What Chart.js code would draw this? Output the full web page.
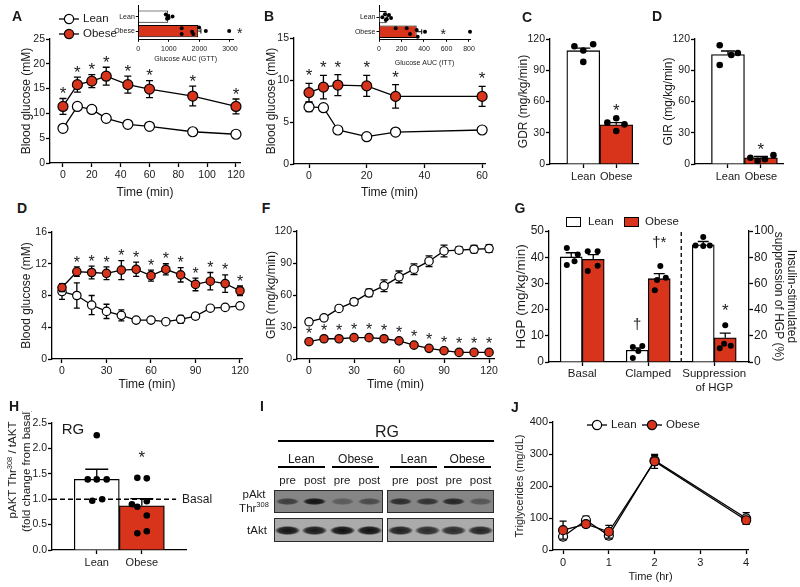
<!DOCTYPE html>
<html>
<head>
<meta charset="utf-8">
<script src="https://cdn.jsdelivr.net/npm/chart.js@4.4.1/dist/chart.umd.min.js"></script>
<style>
  body { margin: 0; background: #fff; }
  #fig { position: relative; width: 800px; height: 587px; overflow: hidden; font-family: "Liberation Sans", Arial, sans-serif; color: #1a1a1a; }
  #fig canvas { position: absolute; }
  .tx { position: absolute; white-space: nowrap; line-height: 1; transform: translate(-50%, -50%); }
  .pl { font-weight: bold; font-size: 14px; }
</style>
</head>
<body>
<div id="fig"></div>
<script>
// ---- data ----
const groups = ['Lean', 'Obese'];
const groupPos = [0, 1];

// A: glucose tolerance test
const timeA = [0, 10, 20, 30, 45, 60, 90, 120];
const leanA = [7.0, 11.4, 10.8, 9.0, 7.8, 7.4, 6.3, 5.8];
const leanAErr = [0.3, 0.3, 0.3, 0.3, 0.3, 0.3, 0.3, 0.3];
const obeseA = [11.4, 15.8, 16.5, 17.5, 15.8, 14.9, 13.5, 11.4];
const obeseAErr = [1.6, 1.5, 1.3, 1.8, 1.7, 1.7, 2.0, 1.5];
const gttAuc = [980, 1960];
const gttAucErr = [40, 90];
const gttLeanDots = [900, 940, 965, 990, 1120];
const gttLeanJit = [-0.15, 0.15, -0.05, 0.1, 0];
const gttObeseDots = [1420, 1420, 1760, 1800, 1990, 2210, 2975];
const gttObeseJit = [-0.2, 0.2, 0.05, 0.2, -0.25, 0, 0];

// B: insulin tolerance test
const timeB = [0, 5, 10, 20, 30, 60];
const leanB = [6.8, 6.7, 4.05, 3.25, 3.8, 4.05];
const leanBErr = [0.55, 0.3, 0.2, 0.2, 0.2, 0.2];
const obeseB = [8.5, 9.15, 9.4, 9.3, 8.05, 8.05];
const obeseBErr = [1.1, 1.4, 1.25, 1.25, 1.4, 1.2];
const ittAuc = [68, 335];
const ittAucErr = [10, 45];
const ittLeanDots = [30, 53, 68, 89, 107, 60];
const ittLeanJit = [0, -0.2, 0.15, -0.15, 0.05, 0.2];
const ittObeseDots = [148, 246, 276, 335, 344, 409, 809];
const ittObeseJit = [-0.23, -0.23, 0.16, -0.11, 0.34, 0, 0];

// C: glucose disposal rate, D: glucose infusion rate
const gdr = [108.8, 37.6];
const gdrErr = [2.5, 2.2];
const gdrLeanDots = [113, 109, 115, 98];
const gdrLeanJit = [-0.27, 0, 0.3, 0];
const gdrObeseDots = [39.7, 43.9, 38, 31.7];
const gdrObeseJit = [-0.27, 0, 0.25, 0];
const gir = [105, 6];
const girErr = [3.5, 1.2];
const girLeanDots = [114, 104.6, 106.5, 95];
const girLeanJit = [-0.25, 0.1, 0.3, -0.25];
const girObeseDots = [6, 3, 4.5, 8.5];
const girObeseJit = [-0.32, -0.1, 0.12, 0.38];

// D (2nd row): clamp blood glucose, F: clamp GIR
const timeClamp = [0, 10, 20, 30, 40, 50, 60, 70, 80, 90, 100, 110, 120];
const leanClampBG = [8.5, 8.0, 6.8, 6.0, 5.5, 4.9, 4.9, 4.7, 5.0, 5.4, 6.4, 6.5, 6.7];
const leanClampBGErr = [1.0, 1.6, 1.2, 0.9, 0.7, 0.2, 0.2, 0.2, 0.5, 0.4, 0.2, 0.2, 0.2];
const obeseClampBG = [9.0, 11.0, 10.9, 10.8, 11.2, 11.3, 10.5, 11.3, 10.6, 9.4, 9.8, 9.5, 8.6];
const obeseClampBGErr = [0.5, 0.6, 0.8, 0.8, 1.2, 0.9, 0.7, 0.7, 0.9, 0.8, 1.1, 1.1, 0.6];
const leanGIR = [34.9, 38.6, 47.4, 53.6, 62, 68.6, 77, 84.2, 91.7, 101.3, 102, 102.9, 103.5];
const leanGIRErr = [1.5, 1.5, 1.5, 3, 3.5, 5.5, 5.5, 5, 5, 5.5, 3, 3.5, 3.5];
const obeseGIR = [16.2, 19, 19, 20, 20, 19, 17, 13, 10, 7.8, 6.2, 6.2, 6.2];
const obeseGIRErr = [1, 1, 1, 1, 1, 1, 1, 1, 1, 1, 1, 1, 1];

// G: hepatic glucose production
const hgpLabels = ['Basal', 'Clamped', ['Suppression', 'of HGP']];
const hgpLabelPos = [0.5, 3.5, 6.5];
const hgpPos = [0, 1, 3, 4];
const hgp = [40.1, 39.2, 4.5, 31.8];
const hgpErr = [1.6, 1.8, 0.9, 1.9];
const hgpDots = [[43.5, 37, 38.5, 41], [42.3, 42.3, 34.7, 36.7], [5.7, 6.1, 4.2, 1.5], [36.6, 32.2, 31.3, 27.4]];
const hgpJit = [[-0.2, -0.2, 0.15, 0.3], [-0.25, 0.2, -0.25, 0.2], [-0.2, 0.23, 0.05, -0.2], [0.05, 0.3, -0.1, -0.2]];
const suppPos = [6, 7];
const supp = [89.5, 18.5];
const suppErr = [2.5, 3.5];
const suppDots = [[95.4, 89, 88.5, 89], [28, 12.5, 10.5, 14]];
const suppJit = [[0, -0.35, 0, 0.3], [0, 0.25, -0.25, -0.05]];

// H: pAKT / tAKT
const pakt = [1.39, 0.87];
const paktErr = [0.2, 0.14];
const paktLeanDots = [2.26, 1.39, 1.39, 1.39, 0.97, 1.0];
const paktLeanJit = [0, -0.2, 0, 0.22, -0.1, 0.12];
const paktObeseDots = [1.42, 1.41, 0.9, 0.85, 0.96, 0.68, 0.33, 0.37];
const paktObeseJit = [-0.1, 0.11, -0.22, -0.1, 0.11, 0.11, -0.1, 0.11];

// I: blot lanes
const blotGroups = ['Lean', 'Obese', 'Lean', 'Obese'];
const blotLanes = ['pre', 'post', 'pre', 'post', 'pre', 'post', 'pre', 'post'];
const pAktBand = [0.6, 0.95, 0.35, 0.5, 0.75, 0.7, 0.8, 0.4];
const tAktBand = [0.95, 0.92, 0.97, 0.97, 0.88, 0.8, 0.8, 0.85];

// J: triglycerides
const timeJ = [0, 0.5, 1, 2, 4];
const leanTG = [42, 93, 45, 280, 99];
const leanTGErr = [10, 13, 12, 15, 18];
const obeseTG = [62, 81, 57, 277, 93];
const obeseTGErr = [28, 8, 20, 22, 12];

// ---- helpers ----
const RED = '#d8341c';
const WHITE = '#ffffff';
const INK = '#1a1a1a';
const FONT = '"Liberation Sans", Arial, sans-serif';
Chart.defaults.font.family = FONT;
Chart.defaults.color = INK;
Chart.defaults.animation = false;
Chart.defaults.events = [];
Chart.defaults.plugins.legend.display = false;
Chart.defaults.plugins.tooltip.enabled = false;

const fig = document.getElementById('fig');

function drawErr(chart, i, before) {
  const ds = chart.data.datasets[i];
  if (!ds.err) return;
  const both = ds.errMode !== 'up';
  if (both !== before) return;
  const meta = chart.getDatasetMeta(i);
  const vs = meta.vScale, vAxis = vs.axis, iAxis = meta.iScale.axis;
  const ctx = chart.ctx, cap = (ds.errCap || 8) / 2;
  ctx.save();
  ctx.strokeStyle = '#000';
  ctx.lineWidth = ds.errWidth || 1.3;
  meta.data.forEach((el, j) => {
    const e = ds.err[j];
    if (!e) return;
    const p = meta.controller.getParsed(j);
    const c = el[iAxis];
    const a = vs.getPixelForValue(both ? p[vAxis] - e : p[vAxis]);
    const b = vs.getPixelForValue(p[vAxis] + e);
    ctx.beginPath();
    if (vAxis === 'y') {
      ctx.moveTo(c, a); ctx.lineTo(c, b);
      ctx.moveTo(c - cap, b); ctx.lineTo(c + cap, b);
      if (both) { ctx.moveTo(c - cap, a); ctx.lineTo(c + cap, a); }
    } else {
      ctx.moveTo(a, c); ctx.lineTo(b, c);
      ctx.moveTo(b, c - cap); ctx.lineTo(b, c + cap);
      if (both) { ctx.moveTo(a, c - cap); ctx.lineTo(a, c + cap); }
    }
    ctx.stroke();
  });
  ctx.restore();
}
Chart.register({
  id: 'errorBars',
  beforeDatasetDraw(chart, args) { drawErr(chart, args.index, true); },
  afterDatasetDraw(chart, args) { drawErr(chart, args.index, false); }
});

// text marks (asterisks, daggers, notes) placed in data coordinates
function marks(items) {
  return {
    id: 'marks',
    afterDatasetsDraw(chart) {
      const ctx = chart.ctx;
      ctx.save();
      ctx.fillStyle = INK;
      items.forEach(m => {
        const px = chart.scales.x.getPixelForValue(m.x) + (m.dx || 0);
        const py = chart.scales[m.axis || 'y'].getPixelForValue(m.y) + (m.dy || 0);
        ctx.font = (m.size || 16) + 'px ' + FONT;
        ctx.textAlign = m.align || 'center';
        ctx.textBaseline = 'middle';
        ctx.fillText(m.text, px, py);
      });
      ctx.restore();
    }
  };
}
function star(x, y, size, axis) {
  return {x, y, text: '*', size, dy: 0.23 * size, axis};
}
function stars(xs, ys, errs, idx, gap, size) {
  return idx.map(i => ({x: xs[i], y: ys[i] + errs[i], text: '*', size, dy: -gap + 0.23 * size}));
}
function guides(items) {
  return {
    id: 'guides',
    afterDatasetsDraw(chart) {
      const ctx = chart.ctx, sx = chart.scales.x, sy = chart.scales.y;
      ctx.save();
      ctx.strokeStyle = '#000';
      items.forEach(g => {
        ctx.lineWidth = g.w || 1.3;
        ctx.setLineDash(g.dash);
        ctx.beginPath();
        ctx.moveTo(sx.getPixelForValue(g.x1), sy.getPixelForValue(g.y1));
        ctx.lineTo(sx.getPixelForValue(g.x2), sy.getPixelForValue(g.y2));
        ctx.stroke();
      });
      ctx.restore();
    }
  };
}

function linAxis(min, max, ticks, o = {}) {
  const bw = o.bw || 1.3;
  const cfg = {
    type: 'linear', min, max, reverse: !!o.reverse, offset: false,
    afterBuildTicks: s => { s.ticks = ticks.map(v => ({value: v})); },
    grid: {display: true, offset: false, drawOnChartArea: false, drawTicks: true, tickLength: o.tl || 4, tickColor: '#000', tickWidth: bw},
    border: {display: true, color: '#000', width: bw},
    ticks: {
      padding: o.pad == null ? 1 : o.pad, color: INK, font: {size: o.fs || 10.5},
      autoSkip: false, maxRotation: 0, minRotation: 0,
      callback: (v, i) => o.labels ? o.labels[i] : (o.fmt ? o.fmt(v) : v)
    },
    title: {display: !!o.title, text: o.title || '', padding: 0, color: INK, font: {size: o.tfs || 12, lineHeight: o.tlh || 1.2}}
  };
  if (o.pos) { cfg.position = o.pos; cfg.axis = 'y'; }
  return cfg;
}

function frame(plot, l, b, r) {
  return {l, t: Math.round(plot.t - 12), r, b};
}

// one canvas per panel, sized so that the chart area lands on `plot`
function make(plot, fr, config) {
  const cv = document.createElement('canvas');
  const w = fr.r - fr.l, h = fr.b - fr.t;
  cv.width = w; cv.height = h;
  Object.assign(cv.style, {left: fr.l + 'px', top: fr.t + 'px', width: w + 'px', height: h + 'px'});
  fig.appendChild(cv);
  const sc = config.options.scales;
  config.options.responsive = false;
  config.options.layout = {padding: {left: 0, bottom: 0, top: plot.t - fr.t, right: sc.y2 ? 0 : fr.r - plot.r}};
  sc.x.afterFit = s => { s.height = fr.b - plot.b; };
  sc.y.afterFit = s => { s.width = plot.l - fr.l; };
  if (sc.y2) sc.y2.afterFit = s => { s.width = fr.r - plot.r; };
  return new Chart(cv, config);
}

function lineDs(xs, ys, err, fill, r, order, cap) {
  return {
    type: 'line', data: xs.map((x, i) => ({x, y: ys[i]})), err, errCap: cap || 7,
    borderColor: '#000', borderWidth: 1.3, tension: 0, fill: false,
    pointRadius: r, pointBackgroundColor: fill, pointBorderColor: '#000', pointBorderWidth: 1.2,
    clip: false, order
  };
}
function barDs(pos, vals, err, colors, o = {}) {
  const horiz = !!o.horiz;
  return {
    type: 'bar', indexAxis: horiz ? 'y' : 'x',
    data: pos.map((p, i) => horiz ? {x: vals[i], y: p} : {x: p, y: vals[i]}),
    err, errMode: 'up', errCap: o.cap || 12, errWidth: o.bw || 1.3,
    backgroundColor: colors, borderColor: '#000', borderWidth: o.bw || 1.3,
    categoryPercentage: 1, barPercentage: o.bp || 1, grouped: false, order: 2,
    yAxisID: o.axis || 'y'
  };
}
function dotsV(pos, vals, jit) { return vals.map((v, i) => ({x: pos + jit[i], y: v})); }
function dotsH(pos, vals, jit) { return vals.map((v, i) => ({x: v, y: pos + jit[i]})); }
function dotDs(points, r, axis) {
  return {type: 'scatter', data: points, pointRadius: r, pointBackgroundColor: '#000', pointBorderWidth: 0,
    showLine: false, order: 0, clip: false, yAxisID: axis || 'y'};
}

function txt(s, x, y, css, left) {
  const d = document.createElement('div');
  d.className = 'tx';
  d.innerHTML = s;
  Object.assign(d.style, {left: x + 'px', top: y + 'px'}, css || {});
  if (left) d.style.transform = 'translate(0,-50%)';
  fig.appendChild(d);
  return d;
}
function box(x, y, w, h, css) {
  const d = document.createElement('div');
  Object.assign(d.style, {position: 'absolute', left: x + 'px', top: y + 'px', width: w + 'px', height: h + 'px', boxSizing: 'border-box'}, css);
  fig.appendChild(d);
  return d;
}
function lineKey(cx, cy, fill, label, size) {
  const s = document.createElementNS('http://www.w3.org/2000/svg', 'svg');
  s.setAttribute('width', 22); s.setAttribute('height', 12);
  s.style.cssText = `position:absolute;left:${cx - 11}px;top:${cy - 6}px`;
  s.innerHTML = `<line x1="1" y1="6" x2="21" y2="6" stroke="#000" stroke-width="1.3"/><circle cx="11" cy="6" r="4.6" fill="${fill}" stroke="#000" stroke-width="1.2"/>`;
  fig.appendChild(s);
  txt(label, cx + 14, cy, {fontSize: size + 'px'}, true);
}

// ---- A ----
const plotA = {l: 50, t: 39, r: 240, b: 163};
make(plotA, frame(plotA, 19, 200, 254), {
  type: 'line',
  data: {datasets: [lineDs(timeA, obeseA, obeseAErr, RED, 5, 0), lineDs(timeA, leanA, leanAErr, WHITE, 5, 1)]},
  options: {scales: {
    x: linAxis(-9, 122.8, [0, 20, 40, 60, 80, 100, 120], {title: 'Time (min)', pad: 2}),
    y: linAxis(0, 25, [0, 5, 10, 15, 20, 25], {title: 'Blood glucose (mM)'})
  }},
  plugins: [marks(stars(timeA, obeseA, obeseAErr, [0, 1, 2, 3, 4, 5, 6, 7], 8, 17))]
});
const plotAi = {l: 138.3, t: 4, r: 233, b: 39.3};
make(plotAi, {l: 100, t: 0, r: 248, b: 63}, {
  type: 'bar',
  data: {datasets: [
    dotDs(dotsH(0, gttLeanDots, gttLeanJit).concat(dotsH(1, gttObeseDots, gttObeseJit)), 2),
    barDs(groupPos, gttAuc, gttAucErr, [WHITE, RED], {horiz: true, cap: 5, bw: 1, bp: 0.85})
  ]},
  options: {indexAxis: 'y', scales: {
    x: linAxis(0, 3100, [0, 1000, 2000, 3000], {fs: 7, tl: 2.5, pad: 3, bw: 1, title: 'Glucose AUC (GTT)', tfs: 7}),
    y: linAxis(-0.79, 1.57, groupPos, {labels: groups, reverse: true, fs: 7, tl: 2.5, pad: 1, bw: 1})
  }},
  plugins: [marks([{x: 3320, y: 1, text: '*', size: 14, dy: 3}])]
});
lineKey(69, 19, WHITE, 'Lean', 11.5);
lineKey(69, 34, RED, 'Obese', 11.5);

// ---- B ----
const plotB = {l: 294, t: 38, r: 485, b: 164};
make(plotB, frame(plotB, 264, 200, 497), {
  type: 'line',
  data: {datasets: [lineDs(timeB, obeseB, obeseBErr, RED, 5, 0), lineDs(timeB, leanB, leanBErr, WHITE, 5, 1)]},
  options: {scales: {
    x: linAxis(-5.2, 61, [0, 20, 40, 60], {title: 'Time (min)', pad: 2}),
    y: linAxis(0, 15, [0, 5, 10, 15], {title: 'Blood glucose (mM)'})
  }},
  plugins: [marks(stars(timeB, obeseB, obeseBErr, [0, 1, 2, 3, 4, 5], 10.5, 17))]
});
const plotBi = {l: 379, t: 5, r: 470, b: 39.3};
make(plotBi, {l: 345, t: 0, r: 482, b: 67}, {
  type: 'bar',
  data: {datasets: [
    dotDs(dotsH(0, ittLeanDots, ittLeanJit).concat(dotsH(1, ittObeseDots, ittObeseJit)), 2),
    barDs(groupPos, ittAuc, ittAucErr, [WHITE, RED], {horiz: true, cap: 5, bw: 1, bp: 0.85})
  ]},
  options: {indexAxis: 'y', scales: {
    x: linAxis(0, 809, [0, 200, 400, 600, 800], {fs: 7, tl: 2.5, pad: 3, bw: 1, title: 'Glucose AUC (ITT)', tfs: 7}),
    y: linAxis(-0.82, 1.52, groupPos, {labels: groups, reverse: true, fs: 7, tl: 2.5, pad: 1, bw: 1})
  }},
  plugins: [marks([{x: 572, y: 1, text: '*', size: 14, dy: 3}])]
});

// ---- C ----
const plotC = {l: 550, t: 39, r: 638, b: 164};
make(plotC, frame(plotC, 516, 187, 648), {
  type: 'bar',
  data: {datasets: [
    dotDs(dotsV(0, gdrLeanDots, gdrLeanJit).concat(dotsV(1, gdrObeseDots, gdrObeseJit)), 3.3),
    barDs(groupPos, gdr, gdrErr, [WHITE, RED], {cap: 14})
  ]},
  options: {scales: {
    x: linAxis(-1.01, 1.66, groupPos, {labels: groups, fs: 11, pad: 2}),
    y: linAxis(0, 120, [0, 30, 60, 90, 120], {title: 'GDR (mg/kg/min)'})
  }},
  plugins: [marks([star(1, 54.4, 17)])]
});

// ---- D (top) ----
const plotD = {l: 695, t: 39, r: 783, b: 164};
make(plotD, frame(plotD, 661, 187, 796), {
  type: 'bar',
  data: {datasets: [
    dotDs(dotsV(0, girLeanDots, girLeanJit).concat(dotsV(1, girObeseDots, girObeseJit)), 3.3),
    barDs(groupPos, gir, girErr, [WHITE, RED], {cap: 14})
  ]},
  options: {scales: {
    x: linAxis(-1.0, 1.67, groupPos, {labels: groups, fs: 11, pad: 2}),
    y: linAxis(0, 120, [0, 30, 60, 90, 120], {title: 'GIR (mg/kg/min)'})
  }},
  plugins: [marks([star(1, 17.3, 17)])]
});

// ---- D (second row) ----
const plotD2 = {l: 52, t: 232, r: 242, b: 359};
make(plotD2, frame(plotD2, 19, 392, 256), {
  type: 'line',
  data: {datasets: [lineDs(timeClamp, obeseClampBG, obeseClampBGErr, RED, 4.2, 0, 6), lineDs(timeClamp, leanClampBG, leanClampBGErr, WHITE, 4.2, 1, 6)]},
  options: {scales: {
    x: linAxis(-6.74, 121.35, [0, 30, 60, 90, 120], {title: 'Time (min)', pad: 2}),
    y: linAxis(0, 16, [0, 4, 8, 12, 16], {title: 'Blood glucose (mM)'})
  }},
  plugins: [marks(stars(timeClamp, obeseClampBG, obeseClampBGErr, [1, 2, 3, 4, 5, 6, 7, 8, 9, 10, 11, 12], 7.5, 16))]
});

// ---- F ----
const plotF = {l: 297, t: 231, r: 494, b: 359};
make(plotF, frame(plotF, 264, 392, 506), {
  type: 'line',
  data: {datasets: [lineDs(timeClamp, obeseGIR, obeseGIRErr, RED, 4.2, 0, 6), lineDs(timeClamp, leanGIR, leanGIRErr, WHITE, 4.2, 1, 7)]},
  options: {scales: {
    x: linAxis(-8, 123.3, [0, 30, 60, 90, 120], {title: 'Time (min)', pad: 2}),
    y: linAxis(0, 120, [0, 30, 60, 90, 120], {title: 'GIR (mg/kg/min)'})
  }},
  plugins: [marks(stars(timeClamp, obeseGIR, obeseGIRErr, [0, 1, 2, 3, 4, 5, 6, 7, 8, 9, 10, 11, 12], 10, 16))]
});

// ---- G ----
const plotG = {l: 549, t: 231, r: 749, b: 362};
const gDots = [];
hgpPos.forEach((p, k) => gDots.push(...dotsV(p, hgpDots[k], hgpJit[k])));
const gSuppDots = [];
suppPos.forEach((p, k) => gSuppDots.push(...dotsV(p, suppDots[k], suppJit[k])));
make(plotG, frame(plotG, 513, 396, 797), {
  type: 'bar',
  data: {datasets: [
    dotDs(gDots, 3),
    dotDs(gSuppDots, 3, 'y2'),
    barDs(hgpPos, hgp, hgpErr, [WHITE, RED, WHITE, RED], {cap: 11}),
    barDs(suppPos, supp, suppErr, [WHITE, RED], {cap: 11, axis: 'y2'})
  ]},
  options: {scales: {
    x: linAxis(-1.01, 8.08, hgpLabelPos, {labels: hgpLabels, fs: 11.5, pad: 1}),
    y: linAxis(0, 50, [0, 10, 20, 30, 40, 50], {title: 'HGP (mg/kg/min)', fs: 12, tfs: 13.5}),
    y2: linAxis(0, 100, [0, 20, 40, 60, 80, 100], {pos: 'right', title: ['Insulin-stimulated', 'suppression of HGP (%)'], fs: 12, tfs: 12, tlh: 1.02})
  }},
  plugins: [
    guides([{x1: 5, x2: 5, y1: 0, y2: 50, dash: [4, 3]}]),
    marks([
      {x: 3, y: 14, text: '†', size: 15},
      {x: 4, y: 45.3, text: '†*', size: 15},
      star(7, 42, 17, 'y2')
    ])
  ]
});
box(566, 217, 15, 10, {border: '1.3px solid #000', background: WHITE});
txt('Lean', 588, 222, {fontSize: '11.5px'}, true);
box(624, 217, 15, 10, {border: '1.3px solid #000', background: RED});
txt('Obese', 645, 222, {fontSize: '11.5px'}, true);

// ---- H ----
const plotH = {l: 52, t: 423, r: 186, b: 550};
const frH = {l: 0, t: 411, r: 226, b: 572};
const hTitle = {
  id: 'hTitle',
  afterDraw(chart) {
    const ctx = chart.ctx;
    const big = '11.5px ' + FONT, small = '7.5px ' + FONT;
    const parts = [['pAKT Thr', big, 0], ['308', small, -3.5], [' / tAKT', big, 0]];
    ctx.save();
    ctx.fillStyle = INK;
    ctx.textBaseline = 'middle';
    ctx.translate(13 - frH.l, 470 - frH.t);
    ctx.rotate(-Math.PI / 2);
    let w = 0;
    parts.forEach(p => { ctx.font = p[1]; w += ctx.measureText(p[0]).width; });
    let x = -w / 2;
    ctx.textAlign = 'left';
    parts.forEach(p => { ctx.font = p[1]; ctx.fillText(p[0], x, p[2]); x += ctx.measureText(p[0]).width; });
    ctx.font = big;
    ctx.textAlign = 'center';
    ctx.fillText('(fold change from basal)', 0, 14);
    ctx.restore();
  }
};
make(plotH, frH, {
  type: 'bar',
  data: {datasets: [
    dotDs(dotsV(0, paktLeanDots, paktLeanJit).concat(dotsV(1, paktObeseDots, paktObeseJit)), 3.3),
    barDs(groupPos, pakt, paktErr, [WHITE, RED], {cap: 23})
  ]},
  options: {scales: {
    x: linAxis(-0.993, 1.98, groupPos, {labels: groups, fs: 11, pad: 2}),
    y: linAxis(0, 2.5, [0, 0.5, 1, 1.5, 2, 2.5], {fmt: v => v.toFixed(1)})
  }},
  plugins: [
    hTitle,
    guides([{x1: -0.993, x2: 1.76, y1: 1, y2: 1, dash: [5, 3], w: 1.4}]),
    marks([{x: 1.76, y: 1, text: 'Basal', size: 12, align: 'left', dx: 6}, star(1, 1.89, 17)])
  ]
});
txt('RG', 73, 428, {fontSize: '15px'});

// ---- I (blot) ----
const blotBoxes = [[274, 383], [387, 494]];
const laneX = [];
blotBoxes.forEach(([l, r]) => { for (let i = 0; i < 4; i++) laneX.push(l + (r - l) * (i + 0.5) / 4); });
txt('RG', 387, 432, {fontSize: '16px'});
box(278, 440, 216, 2, {background: '#000'});
blotGroups.forEach((g, k) => {
  const cx = (laneX[2 * k] + laneX[2 * k + 1]) / 2;
  txt(g, cx, 459, {fontSize: '12px'});
  box(cx - 23.5, 466, 47, 2, {background: '#000'});
});
blotLanes.forEach((s, i) => txt(s, laneX[i], 481, {fontSize: '11.5px'}));
[[490, 513, '#858585', pAktBand, 7, 23], [518, 542, '#ababab', tAktBand, 9, 25]].forEach(([t, b, bg, band, bh, bw]) => {
  blotBoxes.forEach(([l, r]) => box(l, t, r - l, b - t, {border: '1px solid #2a2a2a', background: bg}));
  laneX.forEach((cx, i) => {
    const a = band[i];
    box(cx - bw / 2, (t + b) / 2 - bh / 2, bw, bh, {
      borderRadius: '50%',
      background: `radial-gradient(ellipse at center, rgba(10,10,10,${a}) 0%, rgba(10,10,10,${a * 0.85}) 50%, rgba(10,10,10,0) 75%)`
    });
  });
});
txt('pAkt', 254, 495, {fontSize: '11.5px'});
txt('Thr<sup style="font-size:7.5px">308</sup>', 254, 508, {fontSize: '11.5px'});
txt('tAkt', 257, 531, {fontSize: '11.5px'});

// ---- J ----
const plotJ = {l: 553, t: 422, r: 748, b: 550};
make(plotJ, frame(plotJ, 513, 584, 760), {
  type: 'line',
  data: {datasets: [lineDs(timeJ, obeseTG, obeseTGErr, RED, 4.5, 0, 7), lineDs(timeJ, leanTG, leanTGErr, WHITE, 4.5, 1, 7)]},
  options: {scales: {
    x: linAxis(-0.22, 4.04, [0, 1, 2, 3, 4], {title: 'Time (hr)', pad: 2, fs: 11, tfs: 11}),
    y: linAxis(0, 400, [0, 100, 200, 300, 400], {title: 'Triglycerides (mg/dL)', fs: 11, tfs: 11})
  }}
});
lineKey(597, 425, WHITE, 'Lean', 11.5);
lineKey(652, 425, RED, 'Obese', 11.5);

// ---- panel letters ----
[['A', 17, 16], ['B', 269, 16], ['C', 527, 17], ['D', 657, 16], ['D', 22, 208], ['F', 266, 208],
 ['G', 520, 208], ['H', 14, 406], ['I', 262, 406], ['J', 515, 407]].forEach(([s, x, y]) => txt(s, x, y, {}).className = 'tx pl');
</script>
</body>
</html>
